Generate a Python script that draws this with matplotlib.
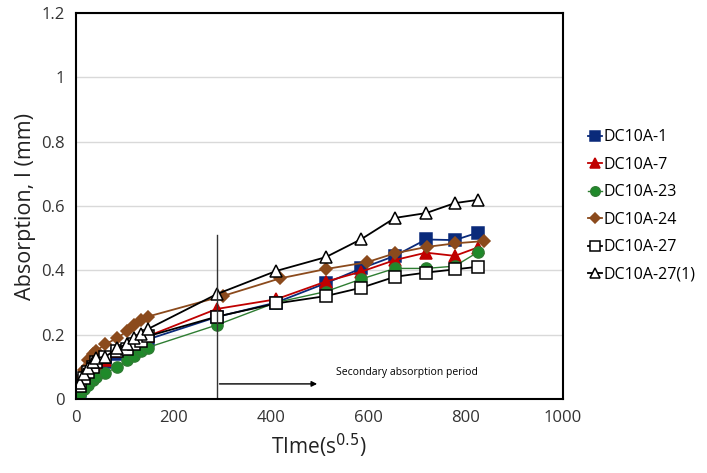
"""
Absorption vs square root of time
"""
import numpy as np
import matplotlib.pyplot as plt

plt.rcParams['font.family'] = ['Open Sans', 'DejaVu Sans']

# time in s^0.5 (first 6 hours, then daily readings)
x_early = [8, 17, 24, 35, 42, 60, 85, 104, 120, 134, 147]
x_late = [289, 411, 513, 586, 655, 719, 778, 825]
x_late_24 = [301, 419, 513, 597, 655, 721, 779, 838]

dc1 = [0.025, 0.055, 0.075, 0.095, 0.105, 0.115, 0.14, 0.15, 0.165, 0.175, 0.185,
       0.255, 0.30, 0.36, 0.406, 0.445, 0.496, 0.494, 0.517]
dc7 = [0.03, 0.06, 0.08, 0.10, 0.11, 0.12, 0.15, 0.16, 0.175, 0.185, 0.195,
       0.28, 0.31, 0.365, 0.396, 0.432, 0.455, 0.445, 0.471]
dc23 = [0.015, 0.03, 0.045, 0.06, 0.07, 0.08, 0.10, 0.12, 0.135, 0.148, 0.16,
        0.23, 0.30, 0.334, 0.373, 0.406, 0.406, 0.413, 0.456]
dc24 = [0.06, 0.09, 0.12, 0.14, 0.15, 0.17, 0.19, 0.21, 0.23, 0.245, 0.256,
        0.32, 0.375, 0.404, 0.425, 0.453, 0.473, 0.484, 0.491]
dc27 = [0.04, 0.065, 0.085, 0.10, 0.115, 0.13, 0.15, 0.155, 0.17, 0.18, 0.195,
        0.256, 0.297, 0.320, 0.346, 0.380, 0.393, 0.403, 0.411]
dc27_1 = [0.049, 0.078, 0.095, 0.114, 0.128, 0.131, 0.158, 0.171, 0.189, 0.202, 0.217,
          0.326, 0.398, 0.441, 0.497, 0.563, 0.578, 0.609, 0.619]

t_all = np.array(x_early + x_late)
t_24 = np.array(x_early + x_late_24)

# start of secondary absorption period
t_sec = 289
line_top = 0.51
arrow_end = 501
arrow_y = 0.047

fig = plt.figure(figsize=(7.07, 4.73), dpi=100)
ax = fig.add_axes([0.1075, 0.1564, 0.6886, 0.8161])

series = [
    (t_all, dc1, 'DC10A-1', '#0a2a7a', 's', '#0a2a7a', 1.3),
    (t_all, dc7, 'DC10A-7', '#c00000', '^', '#c00000', 1.3),
    (t_all, dc23, 'DC10A-23', '#2e7d32', 'o', '#1f8a2a', 1.0),
    (t_24, dc24, 'DC10A-24', '#8b4a1c', 'D', '#8b4a1c', 1.3),
    (t_all, dc27, 'DC10A-27', 'black', 's', 'white', 1.3),
    (t_all, dc27_1, 'DC10A-27(1)', 'black', '^', 'white', 1.3),
]
for t, y, lab, col, mk, fc, lw in series:
    ms = 6 if mk == 'D' else 8
    ax.plot(t, y, color=col, lw=lw, marker=mk, ms=ms, mfc=fc,
            mec='black' if fc == 'white' else col, mew=1.1, label=lab)

ax.plot([t_sec, t_sec], [0, line_top], color='#333333', lw=1.0)
ax.annotate('', xy=(arrow_end, arrow_y), xytext=(t_sec, arrow_y),
            arrowprops=dict(arrowstyle='-|>', color='black', lw=1.0, mutation_scale=8))
ax.text(534, 0.084, 'Secondary absorption period', fontsize=7.5, va='center')

ax.set_xlim(0, 1000)
ax.set_ylim(0, 1.2)
ax.set_xticks(np.arange(0, 1001, 200))
ax.set_yticks(np.arange(0, 1.21, 0.2))
ax.set_yticklabels(['0', '0.2', '0.4', '0.6', '0.8', '1', '1.2'])
ax.tick_params(length=0, labelsize=12, pad=8, colors='#333333')
ax.yaxis.grid(True, color='#d9d9d9', lw=1)
ax.set_axisbelow(True)
for s in ax.spines.values():
    s.set_linewidth(1.5)
    s.set_color('black')

ax.set_xlabel('TIme(s$^{0.5}$)', fontsize=15, color='#222222')
ax.set_ylabel('Absorption, I (mm)', fontsize=15.5, color='#222222', labelpad=4)

leg = ax.legend(loc='center left', bbox_to_anchor=(1.051, 0.5), frameon=False,
                fontsize=11.5, handlelength=0.9, handletextpad=0.1, labelspacing=0.72,
                borderaxespad=0, borderpad=0, markerscale=0.85)

fig.savefig('out.png', dpi=100)
